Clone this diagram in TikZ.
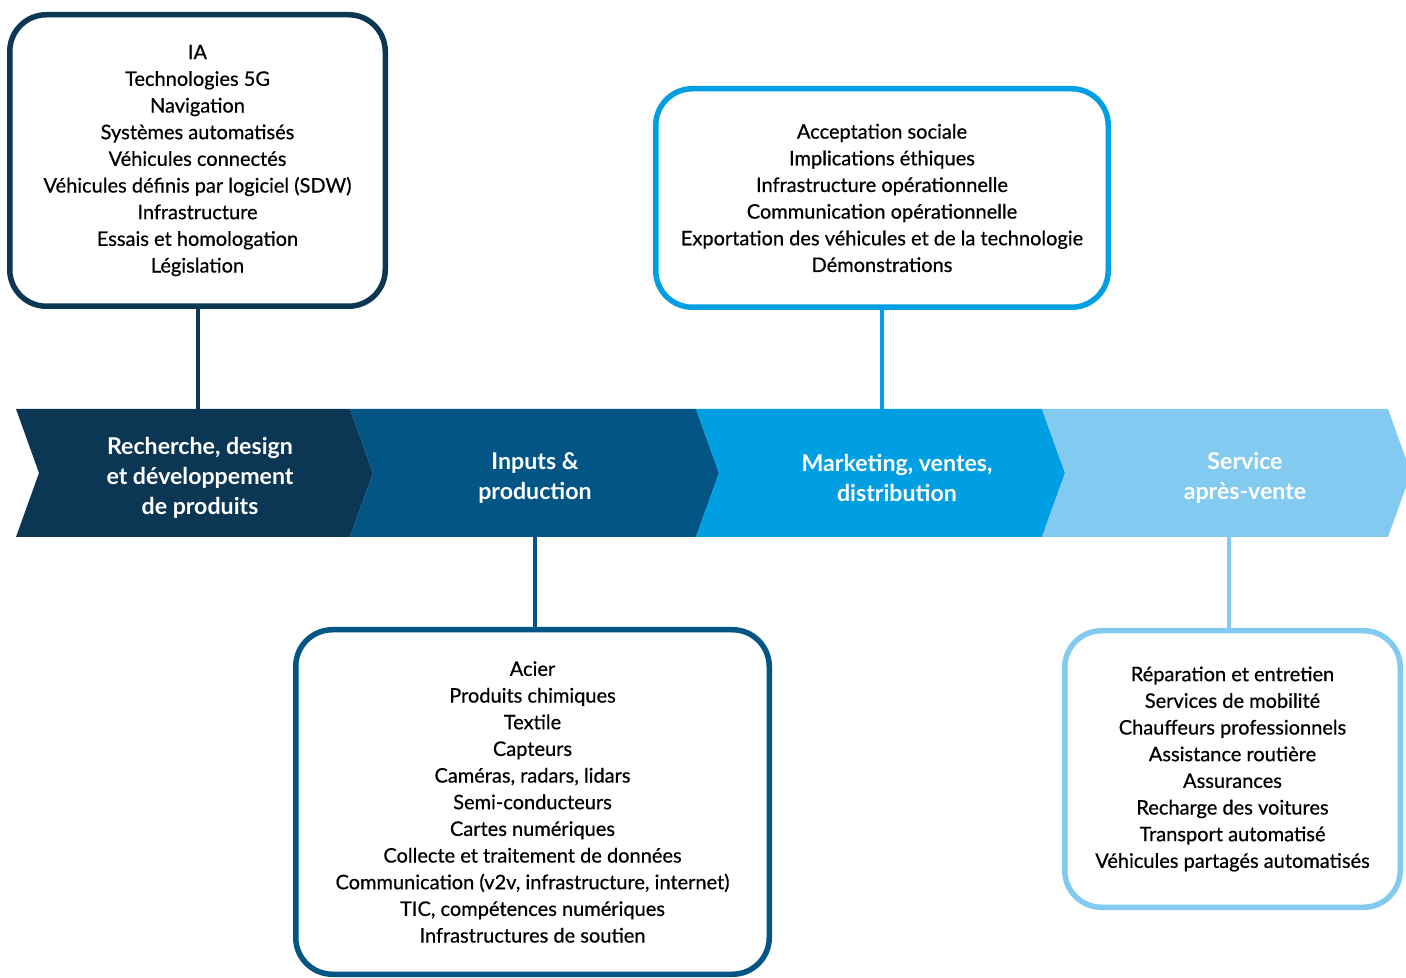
\documentclass[tikz,border=0pt]{standalone}
\usepackage{fontspec}
\setmainfont{Lato}
\newfontfamily\listfont[FakeBold=0.6]{Lato}
\usetikzlibrary{calc}
\definecolor{rdcol}{HTML}{0B3654}
\definecolor{inpcol}{HTML}{025584}
\definecolor{mktcol}{HTML}{009FE3}
\definecolor{srvcol}{HTML}{83CAF1}
\def\u{0.6pt}
\tikzset{
  listbox/.style={draw=#1, line width=3.3pt, rounded corners=22pt, fill=white,
    align=center, text=black, font=\listfont\fontsize{12}{16}\selectfont},
  link/.style={draw=#1, line width=2.4pt},
  phase/.style={align=center, text=white, font=\bfseries\fontsize{13.9}{18}\selectfont},
}

\begin{document}
\begin{tikzpicture}[x=0.6pt, y=-0.6pt]
    \useasboundingbox (0,0) rectangle (1406,978);
    \coordinate (bandtop) at (0,409);
    \coordinate (bandbot) at (0,537);

    % value chain band
    \foreach \l/\r/\c in {16/350/rdcol, 350/696/inpcol, 696/1042/mktcol, 1042/1388/srvcol}
    {
    \fill[\c] (\l,409) -- (\r,409) -- (\r+23,473) -- (\r,537) -- (\l,537) -- (\l+23,473) -- cycle;
    }

    \node[phase] (rd)  at (200,478) {Recherche, design\\et développement\\de produits};
    \node[phase] (inp) at (535,478) {Inputs \&\\production};
    \node[phase] (mkt) at (897,478) {Marketing, ventes,\\distribution};
    \node[phase] (srv) at (1245,478) {Service\\après-vente};

    % boxes
    \node[listbox=rdcol, minimum width=375.5*\u, minimum height=291.5*\u] (rdbox) at (197.5,160.5)
      {IA\\Technologies 5G\\Navigation\\Systèmes automatisés\\Véhicules connectés\\
       Véhicules définis par logiciel (SDW)\\Infrastructure\\Essais et homologation\\Législation};
    \node[listbox=inpcol, minimum width=473.5*\u, minimum height=344.5*\u] (inpbox) at (532.5,802)
      {Acier\\Produits chimiques\\Textile\\Capteurs\\Caméras, radars, lidars\\Semi-conducteurs\\
       Cartes numériques\\Collecte et traitement de données\\Communication (v2v, infrastructure, internet)\\
       TIC, compétences numériques\\Infrastructures de soutien};
    \node[listbox=mktcol, minimum width=452.5*\u, minimum height=218.5*\u] (mktbox) at (882,198)
      {Acceptation sociale\\Implications éthiques\\Infrastructure opérationnelle\\Communication opérationnelle\\
       Exportation des véhicules et de la technologie\\Démonstrations};
    \node[listbox=srvcol, minimum width=335.5*\u, minimum height=276.5*\u] (srvbox) at (1232.5,769)
      {Réparation et entretien\\Services de mobilité\\Chauffeurs professionnels\\Assistance routière\\
       Assurances\\Recharge des voitures\\Transport automatisé\\Véhicules partagés automatisés};

    % links
    \draw[link=rdcol] (rdbox.south) -- (rdbox.south |- bandtop);
    \draw[link=inpcol] ([xshift=1.5pt]inpbox.north) -- ([xshift=1.5pt]inpbox.north |- bandbot);
    \draw[link=mktcol] (mktbox.south) -- (mktbox.south |- bandtop);
    \draw[link=srvcol] ([xshift=-2pt]srvbox.north) -- ([xshift=-2pt]srvbox.north |- bandbot);
\end{tikzpicture}
\end{document}
